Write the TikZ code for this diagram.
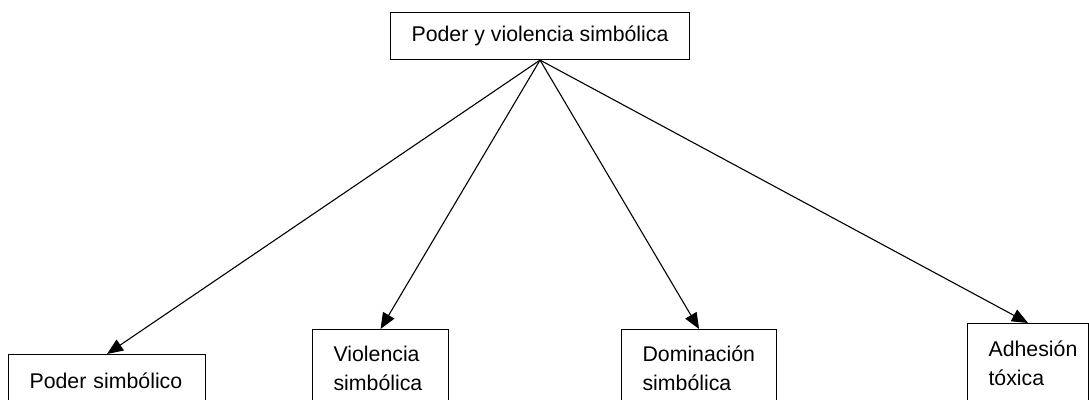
\documentclass[tikz,border=0pt]{standalone}
\usepackage{fontspec}
\setmainfont{Liberation Sans}
\usetikzlibrary{arrows.meta}
\begin{document}
\begin{tikzpicture}[x=0.5pt,y=-0.5pt,
  box/.style={draw, line width=0.55pt, anchor=north west, inner ysep=0pt,
    font=\fontsize{10.65}{14.5}\selectfont},
  lbox/.style={box, align=left, inner xsep=10.5pt},
  link/.style={line width=0.55pt, -{Triangle[length=8pt,width=6.5pt]}}]
\path[use as bounding box, clip] (0,0) rectangle (1089,400);
\node[box, minimum width=149.5pt, minimum height=23.5pt, inner xsep=0pt] (top) at (390,12) {Poder y violencia simbólica};
\node[lbox, text width=77.5pt, minimum height=26pt] (b1) at (8,354) {Poder simbólico};
\node[lbox, text width=47pt, minimum height=38.5pt] (b2) at (312,329) {Violencia\\simbólica};
\node[lbox, text width=56.5pt, minimum height=38.5pt] (b3) at (621,329) {Dominación\\simbólica};
\node[lbox, text width=39.5pt, minimum height=40pt] (b4) at (967,323) {Adhesión\\tóxica};
\draw[link] (top.south) -- (b1.north);
\draw[link] (top.south) -- (b2.north);
\draw[link] (top.south) -- (b3.north);
\draw[link] (top.south) -- (b4.north);
\end{tikzpicture}
\end{document}
